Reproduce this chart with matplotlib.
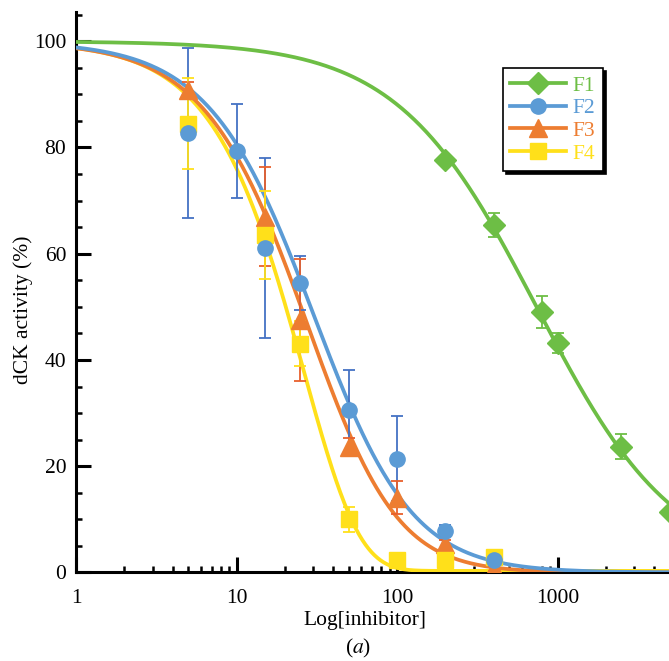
import matplotlib
matplotlib.use("Agg")
import matplotlib.pyplot as plt
import numpy as np
from matplotlib.ticker import MultipleLocator, LogLocator, NullFormatter

# -----------------------------
# measured points (read off the figure)
# -----------------------------
f1_x = [200, 400, 800, 1000, 2500, 5000]
f1_y = [77.6, 65.4, 49.0, 43.2, 23.7, 11.3]
f1_err = [0.6, 2.3, 3.0, 1.8, 2.4, 0.0]

f2_x = [5, 10, 15, 25, 50, 100, 200, 400]
f2_y = [82.7, 79.3, 61.1, 54.5, 30.5, 21.4, 7.9, 2.3]
f2_err = [16.0, 8.8, 17.0, 5.0, 7.7, 8.0, 1.0, 2.0]

f3_x = [5, 15, 25, 50, 100, 200, 400]
f3_y = [90.8, 67.0, 47.5, 23.7, 14.1, 5.4, 0.8]
f3_err = [1.5, 9.3, 11.5, 1.7, 3.1, 0.8, 0.5]

f4_x = [5, 15, 25, 50, 100, 200, 400]
f4_y = [84.5, 63.5, 43.1, 10.0, 2.3, 2.4, 2.9]
f4_err = [8.5, 8.3, 4.2, 2.3, 0.5, 0.5, 0.5]

# dose-response fit parameters (5PL): centre, hill slope, asymmetry, bottom
f1_fit = (740.0, 1.0, 1.0, 0.0)
f2_fit = (35.0, 1.3, 1.2, 0.0)
f3_fit = (38.0, 1.3, 1.5, 0.0)
f4_fit = (250.0, 1.33, 20.0, 0.3)

labels = ["F1", "F2", "F3", "F4"]
colors = ["#6dbe45", "#5b9bd5", "#ed7d31", "#ffe01a"]
err_colors = ["#6dbe45", "#4472c4", "#e8602c", "#ffe01a"]
markers = ["D", "o", "^", "s"]
msizes = [11, 11, 13, 11.5]

x_ticks = [1, 10, 100, 1000]
x_ticklabels = ["1", "10", "100", "1000"]


def logistic5(x, c, h, s, bottom, top=100.0):
    x = np.asarray(x, dtype=float)
    return bottom + (top - bottom) / (1.0 + (x / c) ** h) ** s


plt.rcParams["font.family"] = ["Liberation Serif", "DejaVu Serif"]
plt.rcParams["mathtext.fontset"] = "stix"

fig = plt.figure(figsize=(6.69, 6.61), dpi=100)
ax = fig.add_axes([0.1136, 0.1339, 0.8864, 0.8479])

x_line = np.geomspace(1, 6000, 600)
series = [
    (f1_x, f1_y, f1_err, f1_fit),
    (f2_x, f2_y, f2_err, f2_fit),
    (f3_x, f3_y, f3_err, f3_fit),
    (f4_x, f4_y, f4_err, f4_fit),
]
z_marker = {0: 5, 1: 8, 2: 6, 3: 7}
z_line = {0: 3, 1: 3.3, 2: 3.2, 3: 3.1}

handles = []
for i, (xs, ys, es, fit) in enumerate(series):
    ax.plot(x_line, logistic5(x_line, *fit), color=colors[i], lw=2.7, zorder=z_line[i])
    ax.errorbar(xs, ys, yerr=es, fmt="none", ecolor=err_colors[i], elinewidth=1.3,
                capsize=4, capthick=1.3, zorder=4)
    ax.plot(xs, ys, linestyle="none", marker=markers[i], ms=msizes[i],
            color=colors[i], mec=colors[i], zorder=z_marker[i])
    (h,) = ax.plot([], [], color=colors[i], lw=2.7, marker=markers[i], ms=msizes[i])
    handles.append(h)

ax.set_xscale("log")
ax.set_xlim(1, 4950)
ax.set_ylim(0, 105.5)

ax.set_xticks(x_ticks)
ax.set_xticklabels(x_ticklabels)
ax.xaxis.set_minor_locator(LogLocator(base=10, subs=np.arange(2, 10)))
ax.xaxis.set_minor_formatter(NullFormatter())
ax.set_yticks([0, 20, 40, 60, 80, 100])
ax.yaxis.set_minor_locator(MultipleLocator(5))

for side in ["top", "right"]:
    ax.spines[side].set_visible(False)
for side in ["left", "bottom"]:
    ax.spines[side].set_linewidth(2.2)

ax.tick_params(which="major", direction="in", length=11, width=2.2, labelsize=15.5)
ax.tick_params(axis="x", which="major", pad=12)
ax.tick_params(axis="y", which="major", pad=7)
ax.tick_params(which="minor", direction="in", length=4, width=1.8)

fig.text(0.5456, 0.062, "Log[inhibitor]", ha="center", va="center", fontsize=15.5)
fig.text(0.535, 0.019, r"($\it{a}$)", ha="center", va="center", fontsize=15.5)
fig.text(0.034, 0.532, "dCK activity (%)", ha="center", va="center",
         rotation=90, fontsize=15.5)

leg = ax.legend(handles, labels, loc="upper left", bbox_to_anchor=(0.72, 0.90),
                borderaxespad=0, fontsize=15.5, frameon=True, fancybox=False,
                shadow={"color": "black", "alpha": 1.0}, handlelength=2.6,
                handletextpad=0.3, labelspacing=0.12, borderpad=0.35)
leg.get_frame().set_edgecolor("black")
leg.get_frame().set_linewidth(1.2)
for txt, c in zip(leg.get_texts(), colors):
    txt.set_color(c)

fig.savefig("out.png", dpi=100)
